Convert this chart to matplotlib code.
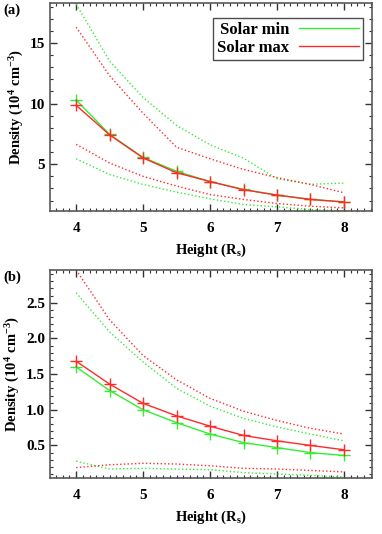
import matplotlib
matplotlib.use("Agg")
import matplotlib.pyplot as plt
from matplotlib.ticker import MultipleLocator

plt.rcParams['font.family'] = ['Liberation Serif', 'DejaVu Serif']
plt.rcParams['font.weight'] = 'bold'
plt.rcParams['mathtext.fontset'] = 'custom'
plt.rcParams['mathtext.rm'] = 'Liberation Serif:bold'
plt.rcParams['mathtext.it'] = 'Liberation Serif:bold'
plt.rcParams['mathtext.bf'] = 'Liberation Serif:bold'

height = [4.0, 4.5, 5.0, 5.5, 6.0, 6.5, 7.0, 7.5, 8.0]

# panel (a)
a_min = [10.3, 7.46, 5.56, 4.42, 3.57, 2.92, 2.44, 2.1, 1.9]
a_max = [9.86, 7.42, 5.52, 4.3, 3.57, 2.9, 2.46, 2.1, 1.88]
a_min_hi = [18.2, 13.5, 10.5, 8.2, 6.6, 5.5, 3.8, 3.35, 3.45]
a_min_lo = [5.45, 4.15, 3.33, 2.7, 2.15, 1.68, 1.49, 1.26, 1.15]
a_max_hi = [16.3, 12.3, 9.2, 6.4, 5.45, 4.57, 3.9, 3.33, 2.65]
a_max_lo = [6.64, 5.1, 4.0, 3.2, 2.5, 2.1, 1.76, 1.54, 1.4]

# panel (b)
b_min = [1.6, 1.27, 1.0, 0.82, 0.66, 0.54, 0.47, 0.4, 0.36]
b_max = [1.68, 1.36, 1.09, 0.915, 0.77, 0.64, 0.565, 0.5, 0.44]
b_min_hi = [2.64, 2.09, 1.67, 1.3, 1.05, 0.88, 0.76, 0.66, 0.565]
b_min_lo = [0.28, 0.17, 0.18, 0.17, 0.16, 0.12, 0.1, 0.08, 0.06]
b_max_hi = [2.96, 2.26, 1.76, 1.42, 1.16, 0.98, 0.85, 0.74, 0.66]
b_max_lo = [0.19, 0.23, 0.25, 0.24, 0.215, 0.18, 0.17, 0.15, 0.13]

green = '#33ee33'
red = '#ff2a2a'

fig = plt.figure(figsize=(3.82, 5.34), dpi=100)
ax1 = fig.add_axes([0.131, 0.605, 0.843, 0.3895])
ax2 = fig.add_axes([0.131, 0.105, 0.843, 0.3895])

panels = [
    (ax1, a_min, a_max, a_min_hi, a_min_lo, a_max_hi, a_max_lo, (1.15, 18.3), 5, 1, '(a)'),
    (ax2, b_min, b_max, b_min_hi, b_min_lo, b_max_hi, b_max_lo, (0.045, 2.96), 0.5, 0.1, '(b)'),
]

for ax, mn, mx, mnh, mnl, mxh, mxl, ylim, major, minor, tag in panels:
    ax.plot(height, mnh, ':', color=green, lw=1)
    ax.plot(height, mnl, ':', color=green, lw=1)
    ax.plot(height, mxh, ':', color=red, lw=1)
    ax.plot(height, mxl, ':', color=red, lw=1)
    ax.plot(height, mn, '-', color=green, lw=1, marker='+', ms=8, mew=1, label='Solar min')
    ax.plot(height, mx, '-', color=red, lw=1, marker='+', ms=8, mew=1, label='Solar max')
    ax.set_xlim(3.61, 8.42)
    ax.set_ylim(*ylim)
    ax.xaxis.set_major_locator(MultipleLocator(1))
    ax.xaxis.set_minor_locator(MultipleLocator(0.1))
    ax.yaxis.set_major_locator(MultipleLocator(major))
    ax.yaxis.set_minor_locator(MultipleLocator(minor))
    ax.tick_params(which='both', direction='in', top=True, right=True, labelsize=11, color='0.2')
    ax.tick_params(which='major', length=5, width=1)
    ax.tick_params(which='minor', length=2.5, width=0.8)
    ax.tick_params(axis='x', pad=8)
    for s in ax.spines.values():
        s.set_color('0.35')
        s.set_linewidth(1.2)
    ax.set_xlabel('Height (R$_s$)', fontsize=10.5, fontweight='bold', labelpad=5)
    ax.set_ylabel('Density (10$^4$ cm$^{-3}$)', fontsize=10.5, fontweight='bold', labelpad=3)
    ax.text(-0.145, 0.965, tag, transform=ax.transAxes, fontsize=10.5, fontweight='bold', va='center')

ax2.yaxis.set_major_formatter(matplotlib.ticker.FormatStrFormatter('%.1f'))

leg_handles = [plt.Line2D([], [], color=green, lw=1), plt.Line2D([], [], color=red, lw=1)]
leg = ax1.legend(leg_handles, ['Solar min', 'Solar max'], loc='upper right',
                 bbox_to_anchor=(0.972, 0.928), markerfirst=False, fancybox=False,
                 edgecolor='0.3', framealpha=1, fontsize=12, handlelength=3.6,
                 borderpad=0.25, labelspacing=0.1, handletextpad=0.6, borderaxespad=0)
leg.get_frame().set_linewidth(1)

fig.savefig('out.png', dpi=100)
